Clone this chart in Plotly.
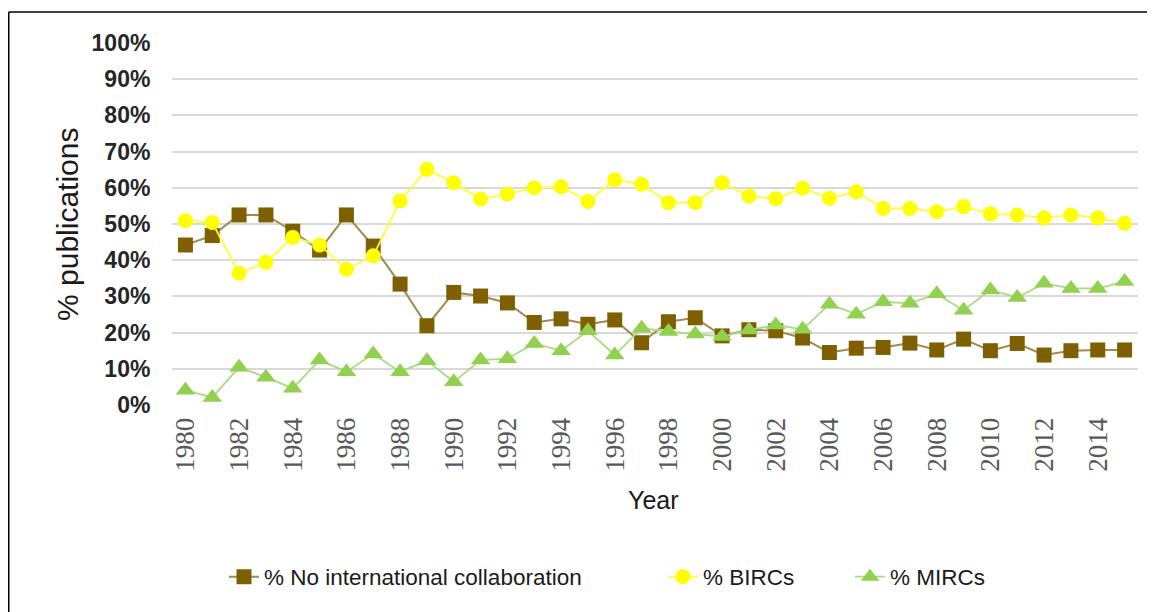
import plotly.graph_objects as go

years = list(range(1980, 2016))
no_intl = [44.2, 46.8, 52.5, 52.5, 48.0, 42.8, 52.5, 43.9, 33.4, 21.9,
           31.1, 30.1, 28.2, 22.8, 23.8, 22.3, 23.5, 17.2, 23.0, 24.1,
           19.1, 20.8, 20.5, 18.5, 14.5, 15.7, 15.9, 17.1, 15.2, 18.2,
           15.0, 17.0, 13.8, 15.0, 15.2, 15.2]
birc = [50.9, 50.4, 36.4, 39.4, 46.3, 44.2, 37.5, 41.2, 56.4, 65.1,
        61.4, 56.9, 58.3, 60.0, 60.3, 56.2, 62.2, 61.0, 55.9, 55.9,
        61.4, 57.7, 57.0, 59.9, 57.1, 58.9, 54.3, 54.3, 53.4, 54.8,
        52.8, 52.5, 51.7, 52.5, 51.7, 50.2]
mirc = [4.1, 2.1, 10.4, 7.7, 4.6, 12.4, 9.2, 14.1, 9.2, 12.2,
        6.4, 12.4, 12.8, 17.0, 15.0, 20.5, 13.8, 21.2, 20.3, 19.6,
        18.9, 20.7, 22.1, 20.9, 27.8, 25.1, 28.5, 28.1, 30.7, 26.2,
        31.8, 29.7, 33.6, 32.2, 32.2, 34.1]
series_names = ["% No international collaboration", "% BIRCs", "% MIRCs"]
y_ticks = list(range(0, 101, 10))
y_tick_text = [f"{v}%" for v in y_ticks]
x_ticks = list(range(1980, 2016, 2))

# page body has an 8px margin; lay out in window pixels and convert
OFF = 8
W, H = 1157 - OFF, 612 - OFF
L, R, T, B = 172 - OFF, 19, 43 - OFF, 207
pw, ph = W - L - R, H - T - B

def px(xw):
    return (xw - OFF - L) / pw

def py(yw):
    return (H - B - (yw - OFF)) / ph

fig = go.Figure()
fig.add_trace(go.Scatter(
    x=years, y=no_intl, name=series_names[0], mode="lines+markers",
    line=dict(color="#A08A50", width=2),
    marker=dict(symbol="square", size=15, color="#7F6000"),
    legend="legend2"))
fig.add_trace(go.Scatter(
    x=years, y=birc, name=series_names[1], mode="lines+markers",
    line=dict(color="#FFFF33", width=1.8),
    marker=dict(symbol="circle", size=15, color="#FFFF00"),
    legend="legend3"))
fig.add_trace(go.Scatter(
    x=years, y=mirc, name=series_names[2], mode="lines+markers",
    line=dict(color="#A9DC80", width=1.8),
    marker=dict(symbol="triangle-up", size=17, color="#92D050"),
    legend="legend4"))

leg_common = dict(orientation="h", yanchor="middle", xanchor="left",
                  font=dict(family="Liberation Sans", size=22.5, color="#1a1a1a"),
                  bgcolor="rgba(0,0,0,0)", itemwidth=30, visible=True)

fig.update_layout(
    width=W, height=H,
    margin=dict(l=L, r=R, t=T, b=B, autoexpand=False),
    paper_bgcolor="white", plot_bgcolor="white",
    xaxis=dict(range=[1979.5, 2015.5], tickmode="array", tickvals=x_ticks,
               ticktext=[str(v) for v in x_ticks], tickangle=-90,
               tickfont=dict(family="Liberation Serif", size=27, color="#595959"),
               showgrid=False, zeroline=False, showline=False,
               ticks="outside", ticklen=1, tickcolor="rgba(0,0,0,0)",
               automargin=False),
    yaxis=dict(range=[0, 100], tickmode="array", tickvals=y_ticks,
               ticktext=y_tick_text,
               tickfont=dict(family="Liberation Sans", size=23, color="#262626",
                             weight="bold"),
               showgrid=True, gridcolor="#D9D9D9", gridwidth=1.5,
               zeroline=False, showline=False,
               ticks="outside", ticklen=16, tickcolor="rgba(0,0,0,0)",
               automargin=False),
    showlegend=True,
    legend2=dict(x=px(224), y=py(577), **leg_common),
    legend3=dict(x=px(663), y=py(577), **leg_common),
    legend4=dict(x=px(850), y=py(577), **leg_common),
    annotations=[
        dict(text="% publications", x=px(68), y=py(225), xref="paper", yref="paper",
             xanchor="center", yanchor="middle",
             textangle=-90, showarrow=False,
             font=dict(family="Liberation Sans", size=30, color="#1a1a1a")),
        dict(text="Year", x=px(653), y=py(500), xref="paper", yref="paper",
             xanchor="center", yanchor="middle",
             showarrow=False,
             font=dict(family="Liberation Sans", size=25, color="#1a1a1a")),
    ],
    shapes=[
        dict(type="line", xref="paper", yref="paper", x0=px(8.75), x1=px(1147),
             y0=py(12), y1=py(12), line=dict(color="black", width=1.5)),
        dict(type="line", xref="paper", yref="paper", x0=px(8.75), x1=px(8.75),
             y0=py(12), y1=py(613), line=dict(color="black", width=1.5)),
    ],
)

fig.write_html("out.html")
